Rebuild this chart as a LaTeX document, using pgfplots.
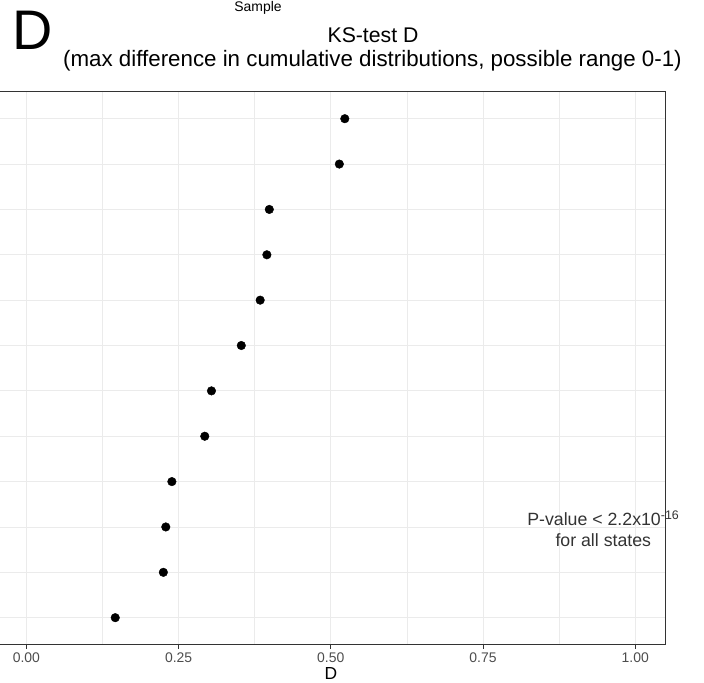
\documentclass[border=0pt]{standalone}
\usepackage{fontspec}
\setmainfont{Liberation Sans}
\usepackage{pgfplots}
\pgfplotsset{compat=1.18}
\definecolor{gridgray}{HTML}{EBEBEB}
\definecolor{framegray}{HTML}{333333}
\definecolor{labgray}{HTML}{4D4D4D}

\pgfplotstableread{
x y
0.146 1
0.225 2
0.229 3
0.239 4
0.293 5
0.304 6
0.353 7
0.384 8
0.395 9
0.399 10
0.514 11
0.523 12
}\ksd

\begin{document}
\begin{tikzpicture}[x=1bp, y=1bp]
\begin{axis}[at={(0,0)}, anchor=south west, scale only axis,
  width=669.8bp, height=553.4bp,
  xmin=-0.05, xmax=1.05, ymin=0.4, ymax=12.6,
  xtick={0,0.25,0.5,0.75,1}, xticklabels={0.00,0.25,0.50,0.75,1.00},
  minor xtick={0.125,0.375,0.625,0.875},
  ytick={1,...,12}, yticklabels={},
  grid=both,
  major grid style={color=gridgray, line width=0.9bp},
  minor grid style={color=gridgray, line width=0.6bp},
  axis line style={framegray, line width=1bp},
  tick align=outside, xtick pos=bottom, ytick pos=left,
  major tick length=4bp, minor tick length=0bp,
  tick style={framegray, line width=1bp},
  xticklabel style={font=\fontsize{14}{16}\selectfont, text=labgray},
]
\addplot[only marks, mark=*, mark size=4.3bp, mark options={fill=black, draw=black}] table[x=x, y=y] {\ksd};
\end{axis}

% titles and labels (1 unit = 1 px of the reference)
\node[anchor=base west, inner sep=0pt, font=\fontsize{56}{60}\selectfont] at (16.6,594.9) {D};
\node[anchor=base, inner sep=0pt, font=\fontsize{14}{16}\selectfont] at (262.1,633.2) {Sample};
\node[anchor=base, inner sep=0pt, font=\fontsize{21.3}{24}\selectfont] at (377.1,602.2) {KS-test D};
\node[anchor=base, inner sep=0pt, font=\fontsize{22.4}{24}\selectfont] at (376.6,578.2) {(max difference in cumulative distributions, possible range 0-1)};
\node[anchor=base, inner sep=0pt, font=\fontsize{17.5}{20}\selectfont] at (334.9,-34.1) {D};
\node[anchor=base, inner sep=0pt, text=framegray, font=\fontsize{17.8}{20}\selectfont] at (607.4,118.9) {P-value < 2.2x10\textsuperscript{-16}};
\node[anchor=base, inner sep=0pt, text=framegray, font=\fontsize{17.8}{20}\selectfont] at (607.4,98.2) {for all states};

\pgfresetboundingbox
\useasboundingbox (4.1,-38.1) rectangle (708.1,644.9);
\end{tikzpicture}
\end{document}
